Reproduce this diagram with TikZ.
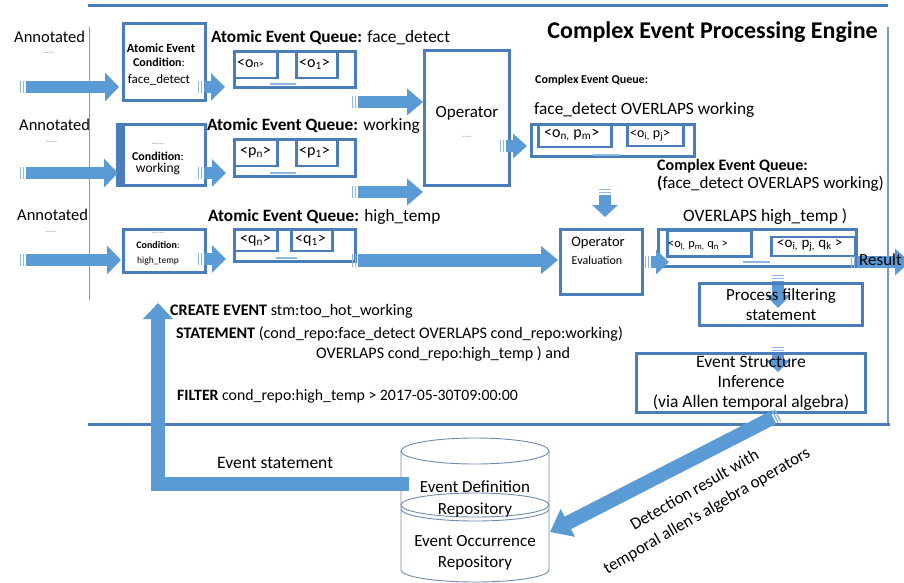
\documentclass[tikz,border=0pt]{standalone}
\usepackage{fontspec}
\setmainfont{Carlito}
\usetikzlibrary{arrows.meta,calc}
\definecolor{boxblue}{HTML}{4A7EBB}
\definecolor{arrowblue}{HTML}{5B9BD5}
\definecolor{stripeblue}{HTML}{8DB9E3}
\definecolor{thinline}{HTML}{7F98BA}
\definecolor{cylgray}{HTML}{6F8CB0}
\newcommand{\blkarrow}[5]{%
  \draw[stripeblue, line width=#3pt] (#1) -- ($(#1)!1.3pt!(#2)$);
  \draw[stripeblue, line width=#3pt] ($(#1)!2.8pt!(#2)$) -- ($(#1)!4.1pt!(#2)$);
  \draw[arrowblue, line width=#3pt, -{Triangle[length=#5pt,width=#4pt]}] ($(#1)!5.6pt!(#2)$) -- (#2);
}
\begin{document}
\begin{tikzpicture}[x=1pt,y=-1pt,
  box/.style={draw=boxblue, line width=2.6pt, inner sep=0pt},
  cyl/.style={draw=cylgray, line width=0.9pt},
  txt/.style={inner sep=0pt, font=\fontsize{17.3}{20}\selectfont},
  stm/.style={inner sep=0pt, font=\fontsize{16.1}{19}\selectfont},
  celltxt/.style={inner sep=0pt, anchor=mid west},
  tiny/.style={inner sep=0pt, text=gray, font=\fontsize{2.2}{2.5}\selectfont},
  qdash/.style={draw=stripeblue, line width=1.6pt},
]
\useasboundingbox[fill=white] (0,0) rectangle (904,583);

% ---------- engine frame ----------
\draw[boxblue, line width=3pt] (88,6) -- (888,6);
\draw[thinline, line width=1pt] (89,27) -- (89,300);
\draw[thinline, line width=1.2pt] (888,27) -- (888,426);
\draw[boxblue, line width=3pt] (88,424) -- (890,424);
\node[anchor=mid east, inner sep=0pt, font=\bfseries\fontsize{24}{28}\selectfont] (title) at (878,36) {Complex Event Processing Engine};

% ---------- inputs ----------
\node[inner sep=0pt, font=\fontsize{16.5}{19}\selectfont, anchor=mid west] (ann1) at (14,40) {Annotated};
\node[tiny] (ann1s) at (48,53) {Sensor Data};
\node[inner sep=0pt, font=\fontsize{16.5}{19}\selectfont, anchor=mid west] (ann2) at (19,128) {Annotated};
\node[tiny] (ann2s) at (52,142) {Sensor Data};
\node[inner sep=0pt, font=\fontsize{16.5}{19}\selectfont, anchor=mid west] (ann3) at (17,218) {Annotated};
\node[tiny] (ann3s) at (51,232) {Sensor Data};

% ---------- condition boxes ----------
\node[box, minimum width=82pt, minimum height=77pt] (c1) at (164.5,62) {};
\node[inner sep=0pt, font=\bfseries\fontsize{12.5}{14}\selectfont] (c1t1) at (161,48) {Atomic Event};
\node[inner sep=0pt, font=\fontsize{12}{14}\selectfont] (c1t2) at (159,62) {\textbf{Condition}:};
\node[inner sep=0pt, font=\fontsize{13}{15}\selectfont] (c1t3) at (159,80) {face\_detect};

\fill[boxblue] (116,124) rectangle (125,186);
\node[box, minimum width=88pt, minimum height=61pt] (c2) at (161.5,155) {};
\node[tiny] (c2t0) at (158,144) {Atomic Event};
\node[inner sep=0pt, font=\fontsize{12}{14}\selectfont] (c2t1) at (158,156) {\textbf{Condition}:};
\node[inner sep=0pt, font=\fontsize{13.5}{15}\selectfont] (c2t2) at (158,169) {working};

\node[box, minimum width=82pt, minimum height=43pt] (c3) at (164.5,251) {};
\node[tiny] (c3t0) at (158,233) {Atomic Event};
\node[inner sep=0pt, font=\fontsize{10}{12}\selectfont] (c3t1) at (158,245) {\textbf{Condition}:};
\node[inner sep=0pt, font=\fontsize{9.5}{11}\selectfont] (c3t2) at (158,261) {high\_temp};

% input arrows
\coordinate (in1) at (20,87);  \coordinate (in1e) at (119,87);
\coordinate (in2) at (20,173); \coordinate (in2e) at (118,173);
\coordinate (in3) at (20,260); \coordinate (in3e) at (121,260);
\blkarrow{in1}{in1e}{12}{28}{14}
\blkarrow{in2}{in2e}{12}{28}{14}
\blkarrow{in3}{in3e}{12}{28}{14}

% ---------- atomic queues ----------
\node[txt, anchor=mid west] (q1l) at (211,40) {\textbf{Atomic Event Queue:} face\_detect};
\node[txt, anchor=mid west] (q2l) at (207,128) {\textbf{Atomic Event Queue:} working};
\node[txt, anchor=mid west] (q3l) at (208,219) {\textbf{Atomic Event Queue:} high\_temp};

\node[box, minimum width=121pt, minimum height=36pt] (q1) at (295,69.5) {};
\node[box, minimum width=43pt, minimum height=27pt] (q1a) at (256,64.5) {};
\node[box, minimum width=41pt, minimum height=27pt] (q1b) at (317,64.5) {};
\node[celltxt, font=\fontsize{16}{18}\selectfont] (q1at) at (237,65) {<o{\fontsize{10}{11}\selectfont n>}};
\node[celltxt, font=\fontsize{16}{18}\selectfont] (q1bt) at (299,65) {<o\textsubscript{1}>};
\draw[qdash] (270,84) -- (296,84);

\node[box, minimum width=121pt, minimum height=37pt] (q2) at (295,158) {};
\node[box, minimum width=43pt, minimum height=27pt] (q2a) at (256,152.5) {};
\node[box, minimum width=41pt, minimum height=27pt] (q2b) at (317,152.5) {};
\node[celltxt, font=\fontsize{16}{18}\selectfont] (q2at) at (240,153) {<p\textsubscript{n}>};
\node[celltxt, font=\fontsize{16}{18}\selectfont] (q2bt) at (299,153) {<p\textsubscript{1}>};
\draw[qdash] (270,173) -- (296,173);

\node[box, minimum width=121pt, minimum height=32pt] (q3) at (295,245.5) {};
\node[box, minimum width=43pt, minimum height=22pt] (q3a) at (256,240) {};
\node[box, minimum width=41pt, minimum height=22pt] (q3b) at (312,240) {};
\node[celltxt, font=\fontsize{16}{18}\selectfont] (q3at) at (240,241) {<q\textsubscript{n}>};
\node[celltxt, font=\fontsize{16}{18}\selectfont] (q3bt) at (295,241) {<q\textsubscript{1}>};
\draw[qdash] (276,258) -- (297,258);

% condition -> queue arrows
\coordinate (k1s) at (198,87);  \coordinate (k1e) at (225,87);
\coordinate (k2s) at (198,173); \coordinate (k2e) at (226,173);
\coordinate (k3s) at (198,259); \coordinate (k3e) at (226,259);
\blkarrow{k1s}{k1e}{12}{27}{14}
\blkarrow{k2s}{k2e}{12}{27}{14}
\blkarrow{k3s}{k3e}{12}{27}{14}

% ---------- operator 1 ----------
\node[box, minimum width=85pt, minimum height=135pt] (op1) at (467,118) {};
\node[inner sep=0pt, font=\fontsize{17}{19}\selectfont] (op1t) at (467,113) {Operator};
\node[tiny] (op1s) at (467,137) {Evaluation};
\coordinate (o1s) at (352,102); \coordinate (o1e) at (423,102);
\coordinate (o2s) at (352,192); \coordinate (o2e) at (423,192);
\blkarrow{o1s}{o1e}{12}{26}{16}
\blkarrow{o2s}{o2e}{12}{26}{16}

% ---------- complex queue 1 ----------
\node[inner sep=0pt, anchor=mid west, font=\bfseries\fontsize{12}{14}\selectfont] (cq1l) at (535,81) {Complex Event Queue:};
\node[txt, anchor=mid west] (cq1l2) at (534,112) {face\_detect OVERLAPS working};
\node[box, minimum width=163pt, minimum height=32pt] (cq1) at (613,140.5) {};
\node[box, minimum width=73pt, minimum height=23pt] (cq1a) at (575,135.5) {};
\node[box, minimum width=56pt, minimum height=22pt] (cq1b) at (655.5,135) {};
\node[celltxt, font=\fontsize{16}{18}\selectfont] (cq1at) at (544,135) {<o\textsubscript{n,} p\textsubscript{m}>};
\node[celltxt, font=\fontsize{14}{16}\selectfont] (cq1bt) at (630,135) {<o\textsubscript{i,} p\textsubscript{j}>};
\draw[qdash] (593,155) -- (620,155);
\coordinate (p1s) at (500,146); \coordinate (p1e) at (527,146);
\blkarrow{p1s}{p1e}{12}{24}{14}

% ---------- operator 2 ----------
\coordinate (d1s) at (605,189); \coordinate (d1e) at (605,217);
\blkarrow{d1s}{d1e}{12}{25}{12}
\node[box, minimum width=82pt, minimum height=65pt] (op2) at (601.5,262) {};
\node[inner sep=0pt, font=\fontsize{14.5}{17}\selectfont] (op2t) at (598,243) {Operator};
\node[inner sep=0pt, font=\fontsize{12}{14}\selectfont] (op2t2) at (597,260) {Evaluation};
\coordinate (l3s) at (352,260); \coordinate (l3e) at (558,260);
\blkarrow{l3s}{l3e}{13}{27}{17}

% ---------- complex queue 2 ----------
\node[inner sep=0pt, anchor=mid west, font=\bfseries\fontsize{16}{19}\selectfont] (cq2l) at (657,168) {Complex Event Queue:};
\node[inner sep=0pt, anchor=mid west, font=\fontsize{17}{20}\selectfont] (cq2l2) at (657,186) {\textbf{(}face\_detect OVERLAPS working)};
\node[inner sep=0pt, anchor=mid west, font=\fontsize{17.5}{20}\selectfont] (cq2l3) at (683,219) {OVERLAPS high\_temp )};
\node[box, minimum width=198pt, minimum height=37pt] (cq2) at (757.5,248) {};
\node[box, minimum width=84pt, minimum height=26pt] (cq2a) at (709.5,243.5) {};
\node[box, minimum width=84pt, minimum height=19pt] (cq2b) at (813.5,246.5) {};
\node[celltxt, font=\fontsize{12.4}{14}\selectfont] (cq2at) at (668,245) {<o\textsubscript{l,} p\textsubscript{m,} q\textsubscript{n} >};
\node[celltxt, font=\fontsize{15}{17}\selectfont] (cq2bt) at (777,245) {<o\textsubscript{i,} p\textsubscript{j,} q\textsubscript{k} >};
\draw[qdash] (743,262) -- (770,262);
\coordinate (p2s) at (645,262); \coordinate (p2e) at (669,262);
\blkarrow{p2s}{p2e}{12}{24}{13}
\coordinate (rs) at (851,262); \coordinate (re) at (910,262);
\blkarrow{rs}{re}{12}{26}{15}
\node[inner sep=0pt, anchor=mid west, font=\fontsize{17}{19}\selectfont] (res) at (859,263) {Result};

% ---------- filtering / inference ----------
\coordinate (d2s) at (778,275); \coordinate (d2e) at (778,308);
\blkarrow{d2s}{d2e}{12}{25}{13}
\node[box, minimum width=163pt, minimum height=42pt, align=center, font=\fontsize{17}{20}\selectfont] (pf) at (781,304.5) {Process filtering\\statement};
\coordinate (d3s) at (778,347); \coordinate (d3e) at (778,372);
\blkarrow{d3s}{d3e}{12}{25}{12}
\node[box, minimum width=229pt, minimum height=59pt, align=center, font=\fontsize{17.5}{20}\selectfont] (esi) at (751,383) {Event Structure\\Inference\\(via Allen temporal algebra)};

% ---------- repository ----------
\draw[cyl, fill=white] (401,451) -- (401,570) arc[start angle=180, end angle=0, x radius=74, y radius=12] -- (549,451);
\draw[cyl] (475,451) ellipse [x radius=74, y radius=13];
\draw[cyl] (475,505) ellipse [x radius=74, y radius=12];
\draw[cyl] (401,509) arc[start angle=180, end angle=0, x radius=74, y radius=12];
\node[minimum width=148pt, minimum height=145pt, inner sep=0pt] (repo) at (475,510) {};
\node[inner sep=0pt, align=center, font=\fontsize{17}{22}\selectfont] (repo1) at (475,499) {Event Definition\\Repository};
\node[inner sep=0pt, align=center, font=\fontsize{17}{20.5}\selectfont] (repo2) at (475,553) {Event Occurrence\\Repository};

% event statement feedback arrow
\coordinate (esA) at (409,484);
\coordinate (esB) at (158,303);
\draw[arrowblue, line width=14pt, line join=miter, -{Triangle[length=16pt,width=29pt]}] (esA) -| (esB);
\node[inner sep=0pt, anchor=mid west, font=\fontsize{17.5}{20}\selectfont] (est) at (217,466) {Event statement};

% statement text
\node[stm, anchor=mid west] (s1) at (170,313) {\textbf{CREATE EVENT} stm:too\_hot\_working};
\node[stm, anchor=mid west] (s2) at (176,336) {\textbf{STATEMENT} (cond\_repo:face\_detect OVERLAPS cond\_repo:working)};
\node[stm, anchor=mid west] (s3) at (316,356) {OVERLAPS cond\_repo:high\_temp ) and};
\node[stm, anchor=mid west, font=\fontsize{15.8}{19}\selectfont] (s4) at (177,398) {\textbf{FILTER} cond\_repo:high\_temp > 2017-05-30T09:00:00};

% detection result arrow
\coordinate (drs) at (778,415); \coordinate (dre) at (550,532);
\blkarrow{drs}{dre}{14}{30}{20}
\node[inner sep=0pt, align=center, rotate=30, font=\fontsize{17}{24}\selectfont] (drl) at (701,501) {Detection result with\\temporal allen’s algebra operators};
\end{tikzpicture}
\end{document}
